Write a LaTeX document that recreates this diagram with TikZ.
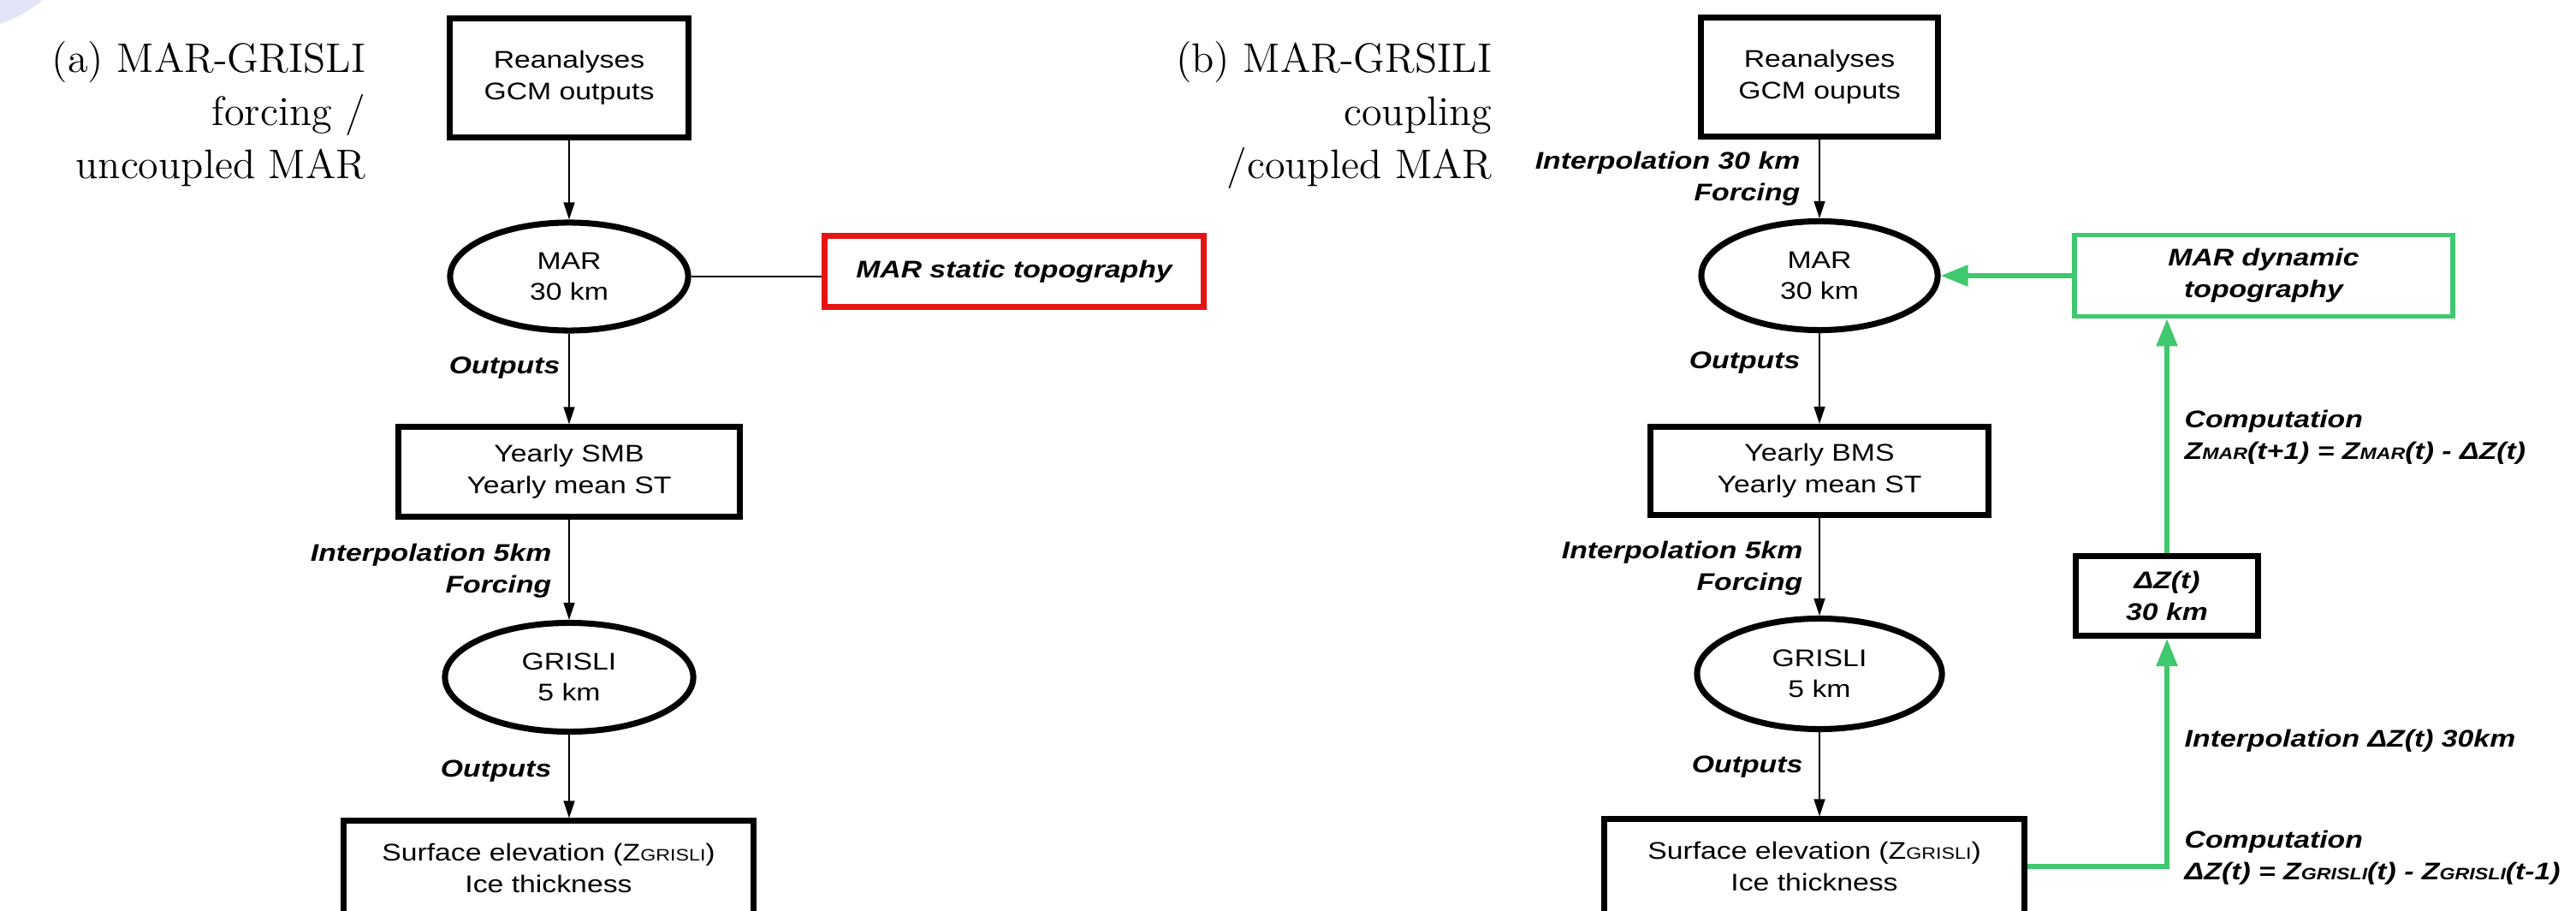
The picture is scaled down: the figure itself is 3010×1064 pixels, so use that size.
\documentclass[tikz,border=0pt]{standalone}
\usepackage{fontspec}
\newfontfamily\arialfont[FakeStretch=1.2]{Liberation Sans}
\usetikzlibrary{shapes.geometric,arrows.meta}
\definecolor{vert}{RGB}{64,200,110}
\definecolor{rouge}{RGB}{230,20,20}
\definecolor{lavande}{RGB}{228,228,248}
\newcommand{\petit}[1]{{\fontsize{5.5}{6}\selectfont #1}}

\begin{document}
\begin{tikzpicture}[x=0.01cm, y=-0.01cm, >={Triangle[length=2mm,width=1.3mm]},
    box/.style = {draw, line width=2pt, inner sep=0pt, align=center, font=\arialfont\fontsize{8}{10.4}\selectfont},
    oval/.style = {box, ellipse},
    lab/.style = {inner sep=0pt, font=\arialfont\bfseries\itshape\fontsize{8}{10.4}\selectfont},
    titre/.style = {inner sep=0pt, align=right, anchor=north east, font=\fontsize{13.7}{17.6}\selectfont},
    garrow/.style = {vert, line width=1.6pt, -{Triangle[length=3.2mm,width=2.4mm]}}]
    \useasboundingbox (0,0) rectangle (3010,1064);
    \clip (0,0) rectangle (3010,1064);
    \fill[lavande] (-50,-120) circle[radius=1.56cm];

    % (a) forcage / MAR non couple
    \node[titre] (tit_a) at (428,48) {(a) MAR-GRISLI\\forcing /\\uncoupled MAR};
    \node[box, minimum width=2.78cm, minimum height=1.38cm] (rea_a) at (665,91) {Reanalyses\\GCM outputs};
    \node[oval, minimum width=2.78cm, minimum height=1.26cm] (mar_a) at (665,323) {MAR\\30 km};
    \node[box, rouge, text=black, font=\arialfont\bfseries\itshape\fontsize{8}{10.4}\selectfont, minimum width=4.42cm, minimum height=0.82cm] (static) at (1185,317) {MAR static topography};
    \node[box, minimum width=3.99cm, minimum height=1.04cm] (ymb_a) at (665,551) {Yearly SMB\\Yearly mean ST};
    \node[oval, minimum width=2.90cm, minimum height=1.27cm] (gri_a) at (665,791) {GRISLI\\5 km};
    \node[box, minimum width=4.79cm, minimum height=1.10cm] (sur_a) at (641,1014) {Surface elevation (Z\petit{GRISLI})\\Ice thickness};

    \node[lab, anchor=east] (out_a1) at (655,430) {Outputs};
    \node[lab, anchor=east, align=right] (int_a) at (645,667) {Interpolation 5km\\Forcing};
    \node[lab, anchor=east] (out_a2) at (645,901) {Outputs};

    \draw[->] (rea_a) -- (mar_a);
    \draw (mar_a.east) -- (mar_a.east -| static.west);
    \draw[->] (mar_a) -- (ymb_a);
    \draw[->] (ymb_a) -- (gri_a);
    \draw[->] (gri_a.south) -- (gri_a.south |- sur_a.north);

    % (b) couplage / MAR couple
    \node[titre] (tit_b) at (1744,48) {(b) MAR-GRSILI\\coupling\\/coupled MAR};
    \node[box, minimum width=2.77cm, minimum height=1.38cm] (rea_b) at (2126,90) {Reanalyses\\GCM ouputs};
    \node[oval, minimum width=2.76cm, minimum height=1.27cm] (mar_b) at (2126,322) {MAR\\30 km};
    \node[box, vert, text=black, line width=1.6pt, font=\arialfont\bfseries\itshape\fontsize{8}{10.4}\selectfont, minimum width=4.42cm, minimum height=0.95cm] (dyn) at (2645,322) {MAR dynamic\\topography};
    \node[box, minimum width=3.95cm, minimum height=1.03cm] (ymb_b) at (2126,550) {Yearly BMS\\Yearly mean ST};
    \node[oval, minimum width=2.86cm, minimum height=1.29cm] (gri_b) at (2126,787) {GRISLI\\5 km};
    \node[box, minimum width=4.91cm, minimum height=1.10cm] (sur_b) at (2120,1012) {Surface elevation (Z\petit{GRISLI})\\Ice thickness};
    \node[box, font=\arialfont\bfseries\itshape\fontsize{8}{10.4}\selectfont, minimum width=2.12cm, minimum height=0.93cm] (dz) at (2532,696) {ΔZ(t)\\30 km};

    \node[lab, anchor=east, align=right] (int_b1) at (2104,209) {Interpolation 30 km\\Forcing};
    \node[lab, anchor=east] (out_b1) at (2104,424) {Outputs};
    \node[lab, anchor=east, align=right] (int_b2) at (2107,664) {Interpolation 5km\\Forcing};
    \node[lab, anchor=east] (out_b2) at (2107,896) {Outputs};
    \node[lab, anchor=west, align=left] (cmp1) at (2552,511) {Computation\\Z\petit{MAR}(t+1) = Z\petit{MAR}(t) - ΔZ(t)};
    \node[lab, anchor=west] (int_dz) at (2552,865) {Interpolation ΔZ(t) 30km};
    \node[lab, anchor=west, align=left] (cmp2) at (2552,1002) {Computation\\ΔZ(t) = Z\petit{GRISLI}(t) - Z\petit{GRISLI}(t-1)};

    \draw[->] (rea_b) -- (mar_b);
    \draw[->] (mar_b) -- (ymb_b);
    \draw[->] (ymb_b) -- (gri_b);
    \draw[->] (gri_b.south) -- (gri_b.south |- sur_b.north);
    \draw[garrow] (sur_b.east) -| (dz);
    \draw[garrow] (dz.north) -- (dz.north |- dyn.south);
    \draw[garrow] (dyn) -- (mar_b);
\end{tikzpicture}
\end{document}
